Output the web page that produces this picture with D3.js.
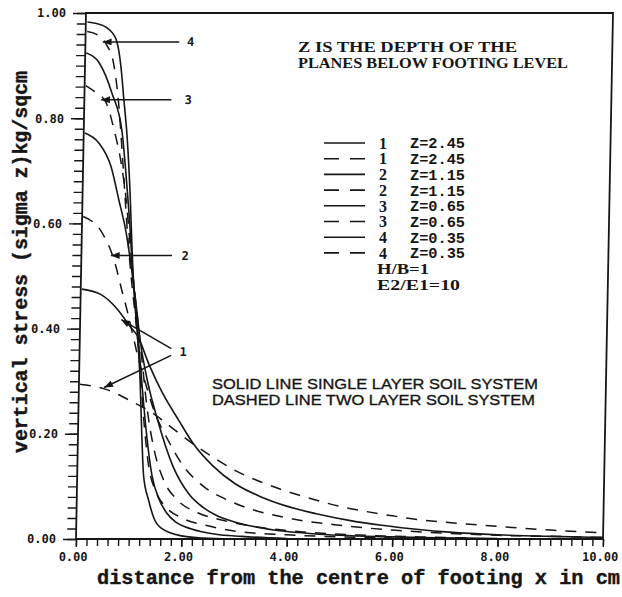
<!DOCTYPE html>
<html>
<head>
<meta charset="utf-8">
<script src="https://cdn.jsdelivr.net/npm/d3@7"></script>
<style>
  html, body { margin: 0; padding: 0; background: #fff; }
  svg { display: block; }
</style>
</head>
<body>
<svg id="chart" width="622" height="597"></svg>
<script>
// ---- tick values and labels ----
const xMajorTicks = [0, 2, 4, 6, 8, 10];
const xTickLabels = ["0.00", "2.00", "4.00", "6.00", "8.00", "10.00"];
const yMajorTicks = [0, 0.2, 0.4, 0.6, 0.8, 1.0];
const yTickLabels = ["0.00", "0.20", "0.40", "0.60", "0.80", "1.00"];

// ---- curve identifiers ----
const curveNumbers = ["1", "2", "3", "4"];
const depthLabels = ["2.45", "1.15", "0.65", "0.35"];

// ---- single layer soil system (solid lines): [x cm, sigma z kg/sqcm] ----
const single1 = [[0.02,0.475],[0.38,0.465],[0.71,0.436],[0.95,0.404],[1.1,0.385],[1.33,0.33],[1.58,0.279],[1.91,0.225],[2.2,0.18],[2.56,0.14],[3.0,0.105],[3.5,0.08],[4.0,0.062],[4.55,0.048],[5.2,0.035],[5.8,0.026],[6.5,0.018],[7.08,0.013],[8.0,0.008],[9.0,0.005],[10.0,0.003]];
const single2 = [[0.02,0.772],[0.29,0.753],[0.53,0.708],[0.69,0.645],[0.84,0.583],[0.95,0.518],[1.05,0.45],[1.15,0.375],[1.3,0.3],[1.5,0.228],[1.81,0.139],[2.13,0.085],[2.4,0.06],[2.65,0.045],[3.02,0.032],[3.46,0.022],[4.5,0.01],[6.0,0.004],[8.0,0.001]];
const single3 = [[0.02,0.924],[0.27,0.905],[0.52,0.848],[0.73,0.772],[0.84,0.67],[0.92,0.583],[0.97,0.518],[1.05,0.44],[1.12,0.37],[1.2,0.29],[1.3,0.2],[1.42,0.12],[1.56,0.076],[1.7,0.051],[1.89,0.032],[2.19,0.019],[2.65,0.009],[3.14,0.005],[4.0,0.001]];
const single4 = [[0.03,0.983],[0.2,0.98],[0.4,0.972],[0.58,0.95],[0.68,0.9],[0.75,0.835],[0.82,0.77],[0.9,0.66],[0.96,0.55],[1.02,0.46],[1.09,0.39],[1.16,0.3],[1.21,0.2],[1.26,0.12],[1.36,0.075],[1.47,0.04],[1.62,0.02],[2.0,0.006],[2.4,0.002],[3.0,0.0]];

// ---- two layer soil system (dashed lines) ----
const two1 = [[0.02,0.294],[0.5,0.285],[1.0,0.262],[1.4,0.24],[1.8,0.21],[2.2,0.18],[2.5,0.16],[3.0,0.13],[3.5,0.108],[4.0,0.09],[4.4,0.078],[5.0,0.062],[5.4,0.054],[6.0,0.044],[6.4,0.038],[7.0,0.032],[8.0,0.024],[9.0,0.017],[10.0,0.012]];
const two2 = [[0.02,0.613],[0.38,0.583],[0.62,0.531],[0.79,0.469],[0.9,0.43],[1.0,0.39],[1.1,0.35],[1.25,0.3],[1.45,0.24],[1.7,0.19],[2.0,0.14],[2.4,0.1],[2.84,0.075],[3.27,0.058],[4.0,0.04],[5.0,0.026],[6.0,0.017],[7.0,0.011],[8.0,0.007],[9.0,0.005],[10.0,0.003]];
const two3 = [[0.02,0.862],[0.2,0.85],[0.41,0.83],[0.57,0.78],[0.73,0.71],[0.83,0.645],[0.92,0.56],[1.0,0.49],[1.1,0.41],[1.2,0.33],[1.3,0.25],[1.45,0.17],[1.65,0.11],[1.9,0.075],[2.3,0.05],[2.8,0.035],[3.5,0.022],[4.5,0.012],[5.5,0.007],[6.5,0.004],[7.5,0.002]];
const two4 = [[0.03,0.965],[0.2,0.96],[0.4,0.94],[0.55,0.9],[0.65,0.83],[0.75,0.72],[0.85,0.6],[0.95,0.5],[1.05,0.42],[1.15,0.33],[1.25,0.22],[1.35,0.14],[1.5,0.09],[1.7,0.06],[2.0,0.04],[2.5,0.025],[3.0,0.015],[4.0,0.008],[5.0,0.004],[6.0,0.002]];

// ---- callout arrows (data coordinates): label, text anchor, arrow tips ----
const calloutText = ["4", "3", "2", "1"];
const calloutAt = [[1.93, 0.945], [1.9, 0.835], [1.9, 0.539], [1.9, 0.355]];
const calloutFrom = [[[1.78, 0.945]], [[1.65, 0.835]], [[1.72, 0.539]], [[1.74, 0.362], [1.74, 0.349]]];
const calloutTip = [[[0.33, 0.945]], [[0.32, 0.835]], [[0.56, 0.539]], [[0.78, 0.417], [0.48, 0.288]]];

// ---- layout ----
const INK = "#161616";
const plotW = 527, plotH = 526;
const originX = 76, topY = 13, lean = 10;   // plate leans slightly to the right at the top

const svg = d3.select("#chart");
svg.append("rect").attr("width", 622).attr("height", 597).attr("fill", "#fff");

const defs = svg.append("defs");
defs.append("marker")
  .attr("id", "head")
  .attr("viewBox", "0 0 10 8")
  .attr("refX", 0).attr("refY", 4)
  .attr("markerWidth", 10).attr("markerHeight", 7)
  .attr("markerUnits", "userSpaceOnUse")
  .attr("orient", "auto")
  .append("path")
  .attr("d", "M0,4 L10,0 L10,8 Z")
  .attr("fill", INK);

const g = svg.append("g")
  .attr("transform", `matrix(1,0,${-lean / plotH},1,${originX + lean},${topY})`);

const x = d3.scaleLinear().domain([0, 10]).range([0, plotW]);
const y = d3.scaleLinear().domain([0, 1]).range([plotH, 0]);

// minor ticks
const xMinor = d3.range(0, 50.5, 1).map(i => i * 0.2);
const yMinor = d3.range(0, 50.5, 1).map(i => i * 0.02);

g.append("g")
  .attr("transform", `translate(0,${plotH})`)
  .call(d3.axisBottom(x).tickValues(xMinor).tickSize(7).tickSizeOuter(0).tickFormat(""))
  .call(s => s.select(".domain").remove());

g.append("g")
  .call(d3.axisLeft(y).tickValues(yMinor).tickSize(9).tickSizeOuter(0).tickFormat(""))
  .call(s => s.select(".domain").remove());

// major ticks with labels
const xAxis = g.append("g")
  .attr("transform", `translate(0,${plotH})`)
  .call(d3.axisBottom(x).tickValues(xMajorTicks).tickSize(8).tickSizeOuter(0).tickPadding(5)
    .tickFormat((d, i) => xTickLabels[i]))
  .call(s => s.select(".domain").remove());

const yAxis = g.append("g")
  .call(d3.axisLeft(y).tickValues(yMajorTicks).tickSize(13).tickSizeOuter(0).tickPadding(7)
    .tickFormat((d, i) => yTickLabels[i]))
  .call(s => s.select(".domain").remove());

g.selectAll(".tick line").attr("stroke", INK).attr("stroke-width", 1.4);
g.selectAll(".tick text")
  .attr("fill", INK)
  .attr("font-family", "'DejaVu Sans Mono', monospace")
  .attr("font-weight", "bold")
  .attr("font-size", 12);
xAxis.selectAll(".tick text").attr("dx", -3);

// frame
const frame = d3.path();
frame.moveTo(x(0), y(0));
frame.lineTo(x(10), y(0));
frame.lineTo(x(10), y(1));
frame.lineTo(x(0), y(1));
frame.closePath();
g.append("path").attr("d", frame.toString())
  .attr("fill", "none").attr("stroke", INK).attr("stroke-width", 1.8);

// curves
const line = d3.line()
  .x(d => x(d[0]))
  .y(d => y(d[1]))
  .curve(d3.curveMonotoneX);

const series = [
  { pts: single1, dashed: false }, { pts: two1, dashed: true },
  { pts: single2, dashed: false }, { pts: two2, dashed: true },
  { pts: single3, dashed: false }, { pts: two3, dashed: true },
  { pts: single4, dashed: false }, { pts: two4, dashed: true }
];

g.selectAll("path.curve")
  .data(series)
  .join("path")
  .attr("class", "curve")
  .attr("d", d => line(d.pts))
  .attr("fill", "none")
  .attr("stroke", INK)
  .attr("stroke-width", d => d.dashed ? 1.5 : 1.6)
  .attr("stroke-dasharray", d => d.dashed ? "11,9" : null);

// callouts
calloutText.forEach((t, i) => {
  calloutTip[i].forEach((tip, k) => {
    const from = calloutFrom[i][k];
    g.append("line")
      .attr("x1", x(tip[0])).attr("y1", y(tip[1]))
      .attr("x2", x(from[0])).attr("y2", y(from[1]))
      .attr("stroke", INK).attr("stroke-width", 1.5)
      .attr("marker-start", "url(#head)");
  });
  g.append("text")
    .attr("x", x(calloutAt[i][0])).attr("y", y(calloutAt[i][1]))
    .attr("dy", "0.35em")
    .attr("font-family", "'DejaVu Sans Mono', monospace")
    .attr("font-weight", "bold").attr("font-size", 12)
    .attr("fill", INK)
    .text(t);
});

// ---- text blocks ----
const note = svg.append("g")
  .attr("font-family", "'Liberation Serif', serif")
  .attr("font-weight", "bold")
  .attr("font-size", 15)
  .attr("fill", INK);
note.append("text").attr("x", 298).attr("y", 52)
  .attr("textLength", 219).attr("lengthAdjust", "spacingAndGlyphs")
  .text("Z IS THE DEPTH OF THE");
note.append("text").attr("x", 298).attr("y", 68)
  .attr("textLength", 270).attr("lengthAdjust", "spacingAndGlyphs")
  .text("PLANES BELOW FOOTING LEVEL");

// legend
const legendRows = [];
curveNumbers.forEach((n, i) => {
  legendRows.push({ num: n, z: depthLabels[i], dashed: false });
  legendRows.push({ num: n, z: depthLabels[i], dashed: true });
});
const lg = svg.append("g");
const rowY = i => 143 + i * 15.7;
legendRows.forEach((r, i) => {
  lg.append("line")
    .attr("x1", 324).attr("x2", 365)
    .attr("y1", rowY(i)).attr("y2", rowY(i))
    .attr("stroke", INK).attr("stroke-width", 1.6)
    .attr("stroke-dasharray", r.dashed ? "15,11" : null);
  lg.append("text")
    .attr("x", 383).attr("y", rowY(i)).attr("dy", "0.36em")
    .attr("text-anchor", "middle")
    .attr("font-family", "'Liberation Serif', serif")
    .attr("font-weight", "bold").attr("font-size", 16)
    .attr("fill", INK).text(r.num);
  lg.append("text")
    .attr("x", 410).attr("y", rowY(i)).attr("dy", "0.36em")
    .attr("font-family", "'Liberation Mono', monospace")
    .attr("font-weight", "bold").attr("font-size", 15)
    .attr("textLength", 55).attr("lengthAdjust", "spacingAndGlyphs")
    .attr("fill", INK).text("Z=" + r.z);
});
lg.append("text")
  .attr("x", 377).attr("y", rowY(8)).attr("dy", "0.36em")
  .attr("font-family", "'Liberation Serif', serif")
  .attr("font-weight", "bold").attr("font-size", 15)
  .attr("textLength", 52).attr("lengthAdjust", "spacingAndGlyphs")
  .attr("fill", INK).text("H/B=1");
lg.append("text")
  .attr("x", 377).attr("y", rowY(9)).attr("dy", "0.36em")
  .attr("font-family", "'Liberation Serif', serif")
  .attr("font-weight", "bold").attr("font-size", 15)
  .attr("textLength", 83).attr("lengthAdjust", "spacingAndGlyphs")
  .attr("fill", INK).text("E2/E1=10");

// line-style explanation
const expl = svg.append("g")
  .attr("font-family", "'Liberation Sans', sans-serif")
  .attr("font-size", 15)
  .attr("fill", INK)
  .attr("stroke", INK).attr("stroke-width", 0.35);
expl.append("text").attr("x", 212).attr("y", 389)
  .attr("textLength", 326).attr("lengthAdjust", "spacingAndGlyphs")
  .text("SOLID LINE SINGLE LAYER SOIL SYSTEM");
expl.append("text").attr("x", 212).attr("y", 405)
  .attr("textLength", 323).attr("lengthAdjust", "spacingAndGlyphs")
  .text("DASHED LINE TWO LAYER SOIL SYSTEM");

// axis titles
svg.append("text")
  .attr("x", 97).attr("y", 584)
  .attr("font-family", "'Liberation Mono', monospace")
  .attr("font-weight", "bold").attr("font-size", 20)
  .attr("textLength", 523).attr("lengthAdjust", "spacingAndGlyphs")
  .attr("fill", INK).attr("stroke", INK).attr("stroke-width", 0.4)
  .text("distance from the centre of footing x in cm");

svg.append("text")
  .attr("transform", "translate(27,453) rotate(-90)")
  .attr("font-family", "'Liberation Mono', monospace")
  .attr("font-weight", "bold").attr("font-size", 20)
  .attr("textLength", 382).attr("lengthAdjust", "spacingAndGlyphs")
  .attr("fill", INK).attr("stroke", INK).attr("stroke-width", 0.4)
  .text("vertical stress (sigma z)kg/sqcm");
</script>
</body>
</html>
